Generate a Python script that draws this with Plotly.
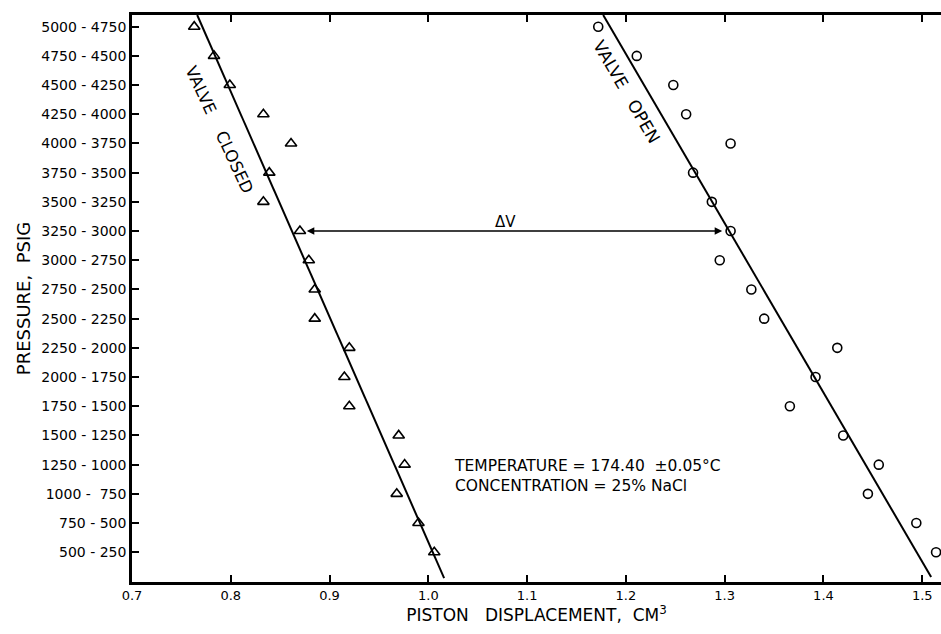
import plotly.graph_objects as go

# pressure bins, bottom (index 0) to top (index 18)
pressure_labels = [
    "500 - 250", "750 - 500", "1000 -  750", "1250 - 1000", "1500 - 1250",
    "1750 - 1500", "2000 - 1750", "2250 - 2000", "2500 - 2250", "2750 - 2500",
    "3000 - 2750", "3250 - 3000", "3500 - 3250", "3750 - 3500", "4000 - 3750",
    "4250 - 4000", "4500 - 4250", "4750 - 4500", "5000 - 4750",
]
bin_index = list(range(len(pressure_labels)))

# piston displacement (cm3), bottom bin to top bin
closed_x = [1.006, 0.990, 0.968, 0.976, 0.970, 0.920, 0.915, 0.920, 0.885, 0.885,
            0.879, 0.870, 0.833, 0.839, 0.861, 0.833, 0.799, 0.783, 0.763]
open_x = [1.514, 1.494, 1.445, 1.456, 1.420, 1.366, 1.392, 1.414, 1.340, 1.327,
          1.295, 1.306, 1.287, 1.268, 1.306, 1.261, 1.248, 1.211, 1.172]

# fitted straight lines (end points)
closed_fit_x = [0.766, 1.016]
closed_fit_y = [18.4, -0.89]
open_fit_x = [1.177, 1.509]
open_fit_y = [18.4, -0.85]

# delta V arrow between the two lines at the 3250-3000 bin
dv_x = [0.877, 1.299]
dv_y = 11

FONT = "DejaVu Sans"
NB = "\u00a0"

fig = go.Figure()
fig.add_trace(go.Scatter(x=closed_fit_x, y=closed_fit_y, mode="lines",
                         line=dict(color="black", width=2), showlegend=False))
fig.add_trace(go.Scatter(x=open_fit_x, y=open_fit_y, mode="lines",
                         line=dict(color="black", width=2), showlegend=False))
fig.add_trace(go.Scatter(x=closed_x, y=bin_index, mode="markers", cliponaxis=False,
                         marker=dict(symbol="triangle-up-open", size=10, color="black",
                                     line=dict(width=1.6)),
                         showlegend=False))
fig.add_trace(go.Scatter(x=open_x, y=bin_index, mode="markers", cliponaxis=False,
                         marker=dict(symbol="circle-open", size=9, color="black",
                                     line=dict(width=1.6)),
                         showlegend=False))

# double headed arrow
fig.add_annotation(x=dv_x[0], y=dv_y, ax=dv_x[1], ay=dv_y, xref="x", yref="y",
                   axref="x", ayref="y", text="", showarrow=True, arrowhead=2,
                   arrowside="end+start", arrowsize=1, arrowwidth=1.5, arrowcolor="black")
fig.add_annotation(x=1.078, y=11.3, text="ΔV", showarrow=False,
                   font=dict(family=FONT, size=15, color="black"))

fig.add_annotation(x=0.788, y=14.47, text="VALVE" + NB * 4 + "CLOSED", showarrow=False,
                   textangle=65, font=dict(family=FONT, size=16.5, color="black"))
fig.add_annotation(x=1.201, y=15.77, text="VALVE" + NB * 3 + "OPEN", showarrow=False,
                   textangle=60, font=dict(family=FONT, size=17, color="black"))

fig.add_annotation(x=1.024, y=2.62, xanchor="left", align="left", showarrow=False,
                   text="TEMPERATURE = 174.40" + NB * 2 + "±0.05°C<br>CONCENTRATION = 25% NaCl",
                   font=dict(family=FONT, size=15.5, color="black"))

fig.update_xaxes(range=[0.7, 1.519], tickvals=[0.7, 0.8, 0.9, 1.0, 1.1, 1.2, 1.3, 1.4, 1.5],
                 ticktext=["0.7", "0.8", "0.9", "1.0", "1.1", "1.2", "1.3", "1.4", "1.5"],
                 ticks="inside", ticklen=7, tickwidth=1.5, tickcolor="black",
                 showline=True, linewidth=2.5, linecolor="black", mirror="ticks",
                 showgrid=False, zeroline=False, automargin=False,
                 tickfont=dict(family=FONT, size=13, color="black"),
                 title=dict(text="PISTON" + NB * 3 + "DISPLACEMENT," + NB * 2 + "CM<sup>3</sup>",
                            font=dict(family=FONT, size=17, color="black"), standoff=3))
fig.update_yaxes(range=[-1.02, 18.4], tickvals=bin_index, ticktext=pressure_labels,
                 ticks="inside", ticklen=7, tickwidth=1.5, tickcolor="black",
                 showline=True, linewidth=2.5, linecolor="black", mirror=False,
                 showgrid=False, zeroline=False, automargin=False,
                 tickfont=dict(family=FONT, size=14, color="black"),
                 title=dict(text="PRESSURE," + NB * 2 + "PSIG",
                            font=dict(family=FONT, size=18, color="black"), standoff=6))

fig.update_layout(width=941, height=634, margin=dict(l=132, r=0, t=15, b=52),
                  plot_bgcolor="white", paper_bgcolor="white")

# drop the default page margin so the figure fills the window exactly
fig.write_html("out.html", config={"displayModeBar": False},
               post_script="document.body.style.margin='0px';document.body.style.overflow='hidden';")
